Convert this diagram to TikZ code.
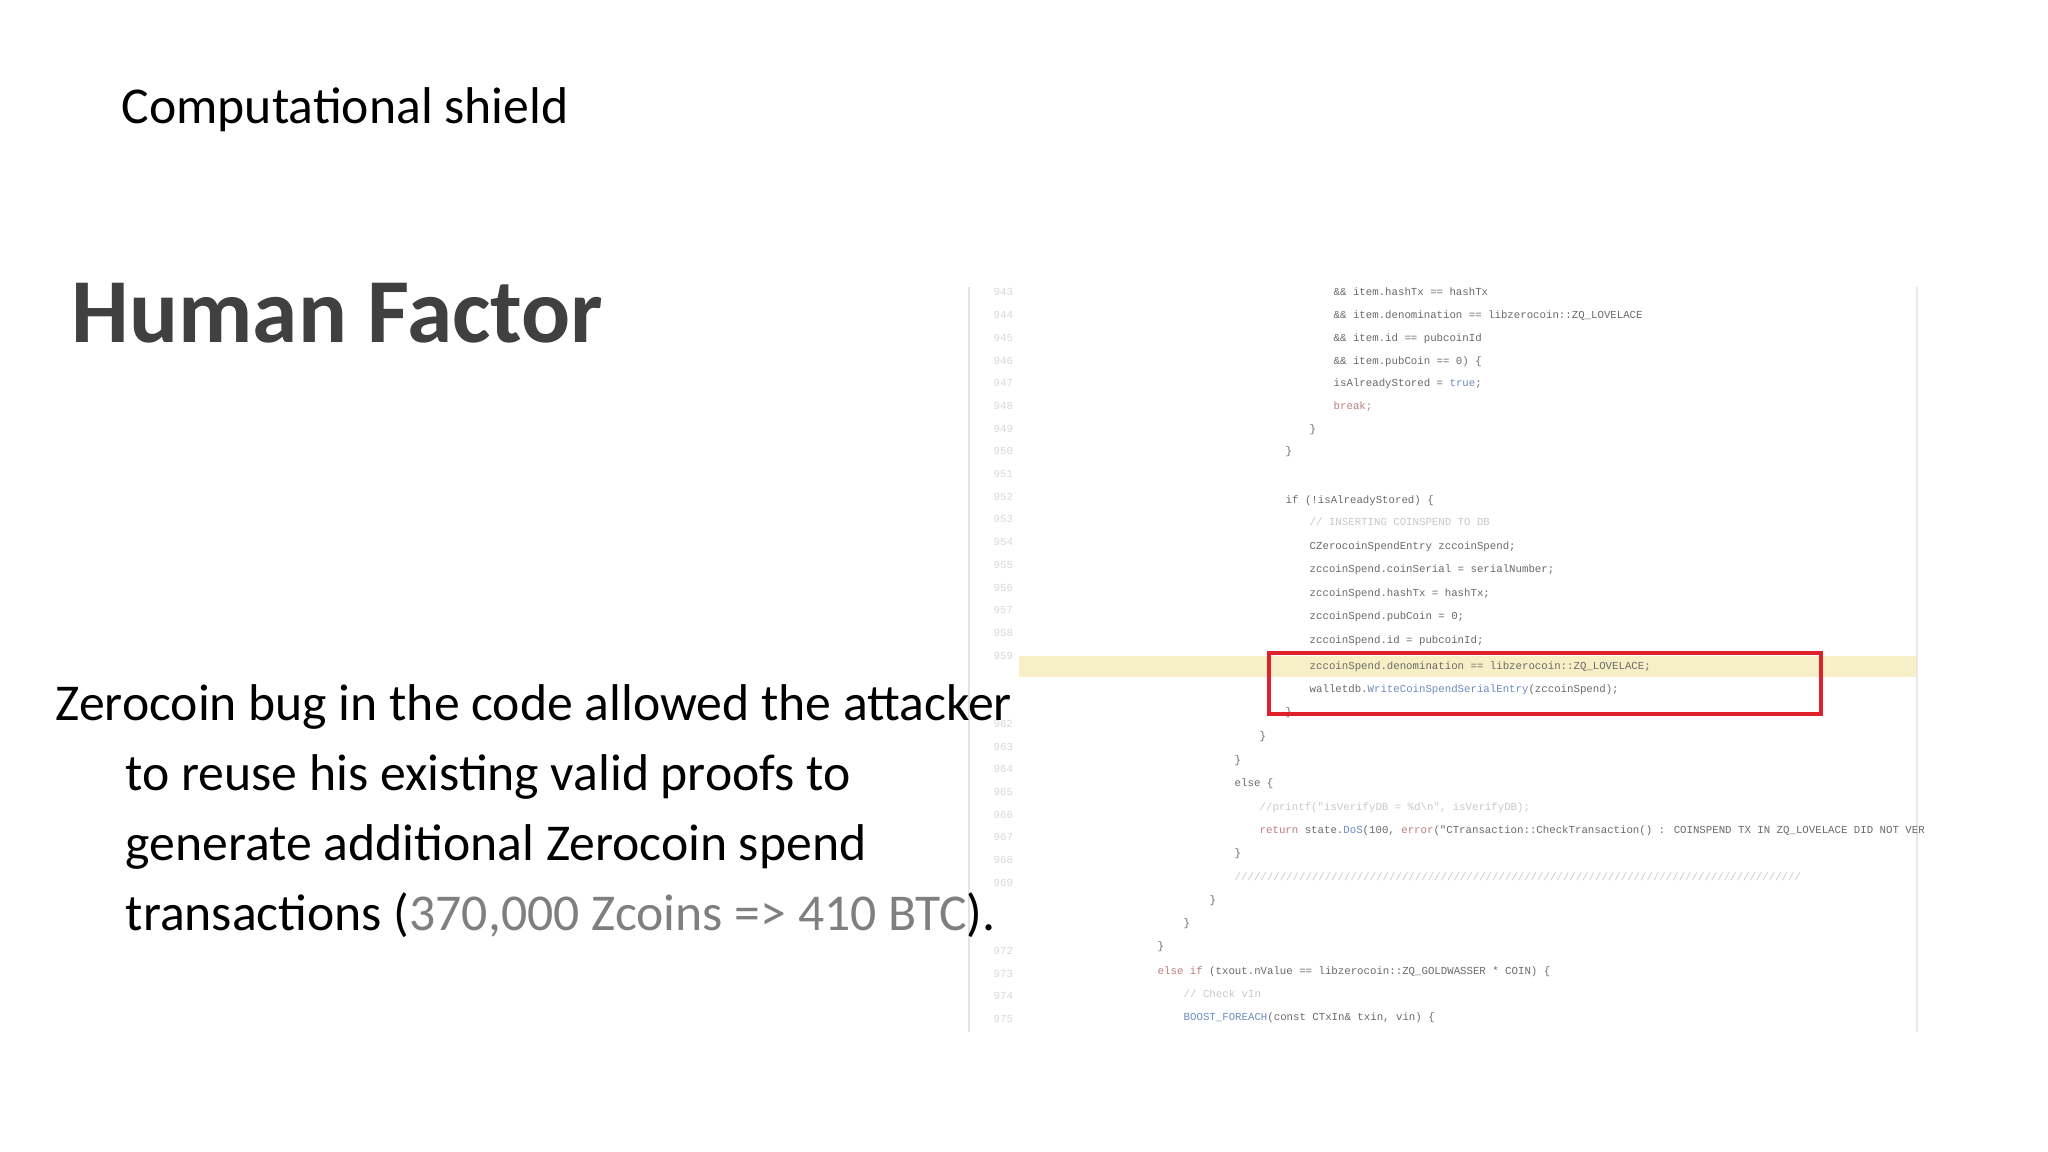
\documentclass[tikz,border=0pt]{standalone}
\usepackage{fontspec}
\setmainfont{Carlito}
\newfontfamily\codefont{Liberation Mono}
\definecolor{titlegray}{HTML}{404040}
\definecolor{numgray}{HTML}{7F7F7F}
\definecolor{codegray}{HTML}{6A6A6A}
\definecolor{codeblue}{HTML}{6C8CC0}
\definecolor{codered}{HTML}{C07A7A}
\definecolor{lnum}{HTML}{C8C8C8}
\definecolor{hl}{HTML}{F7F0C6}
\definecolor{boxred}{HTML}{E0202A}
\begin{document}
\begin{tikzpicture}[x=0.01cm,y=-0.01cm,
  body/.style={anchor=base west,inner sep=0pt,font=\fontsize{14.7pt}{17pt}\selectfont},
  code/.style={anchor=base west,inner sep=0pt,text=codegray,font=\codefont\fontsize{3.05pt}{3.5pt}\selectfont},
  lno/.style={anchor=base west,inner sep=0pt,text=lnum!70,font=\codefont\fontsize{3.05pt}{3.5pt}\selectfont}]
\useasboundingbox (0,0) rectangle (2048,1152);
\fill[white] (0,0) rectangle (2048,1152);
% code screenshot
\fill[hl] (1019,656) rectangle (1916,677);
\draw[lnum!50,line width=0.4pt] (969,287) -- (969,1032);
\draw[lnum!40,line width=0.4pt] (1917,287) -- (1917,1032);
\foreach \i in {0,...,16,19,20,...,26,29,30,31,32}{
  \pgfmathtruncatemacro{\n}{943+\i}
  \node[lno] (ln\i) at (993,{296+22.7*\i}) {\n};
}
\node[code] (c0) at (1333,296.0) {\&\& item.hashTx == hashTx};
\node[code] (c1) at (1333,318.7) {\&\& item.denomination == libzerocoin::ZQ\_LOVELACE};
\node[code] (c2) at (1333,341.4) {\&\& item.id == pubcoinId};
\node[code] (c3) at (1333,364.1) {\&\& item.pubCoin == 0) \{};
\node[code] (c4) at (1333,386.8) {isAlreadyStored = \textcolor{codeblue}{true};};
\node[code,text=codered] (c5) at (1333,409.5) {break;};
\node[code] (c6) at (1309,432.2) {\}};
\node[code] (c7) at (1285,454.9) {\}};
\node[code] (c9) at (1285,503.3) {if (!isAlreadyStored) \{};
\node[code,text=lnum] (c10) at (1309,526.0) {// INSERTING COINSPEND TO DB};
\node[code] (c11) at (1309,549.7) {CZerocoinSpendEntry zccoinSpend;};
\node[code] (c12) at (1309,572.4) {zccoinSpend.coinSerial = serialNumber;};
\node[code] (c13) at (1309,596.1) {zccoinSpend.hashTx = hashTx;};
\node[code] (c14) at (1309,619.8) {zccoinSpend.pubCoin = 0;};
\node[code] (c15) at (1309,643.5) {zccoinSpend.id = pubcoinId;};
\node[code] (c16) at (1309,669.2) {zccoinSpend.denomination == libzerocoin::ZQ\_LOVELACE;};
\node[code] (c17) at (1309,692.9) {walletdb.\textcolor{codeblue}{WriteCoinSpendSerialEntry}(zccoinSpend);};
\node[code] (c18) at (1285,715.6) {\}};
\node[code] (c19) at (1259,739.3) {\}};
\node[code] (c20) at (1234,763.0) {\}};
\node[code] (c21) at (1234,786.7) {else \{};
\node[code,text=lnum] (c22) at (1259,810.4) {//printf("isVerifyDB = \%d\textbackslash n", isVerifyDB);};
\node[code] (c23) at (1259,833.1) {\textcolor{codered}{return} state.\textcolor{codeblue}{DoS}(100, \textcolor{codered}{error}("CTransaction::CheckTransaction() : COINSPEND TX IN ZQ\_LOVELACE DID NOT VER};
\node[code] (c24) at (1234,856.8) {\}};
\node[code,text=lnum] (c25) at (1234,880.5) {////////////////////////////////////////////////////////////////////////////////////////};
\node[code] (c26) at (1209,903.2) {\}};
\node[code] (c27) at (1183,926.9) {\}};
\node[code] (c28) at (1157,949.6) {\}};
\node[code] (c29) at (1157,974.3) {\textcolor{codered}{else if} (txout.nValue == libzerocoin::ZQ\_GOLDWASSER * COIN) \{};
\node[code,text=lnum] (c30) at (1183,997.0) {// Check vIn};
\node[code] (c31) at (1183,1020.7) {\textcolor{codeblue}{BOOST\_FOREACH}(const CTxIn\& txin, vin) \{};
\draw[boxred,line width=1.2pt] (1269,653) rectangle (1821,714);
% slide text
\node[anchor=base west,inner sep=0pt,font=\fontsize{14.7pt}{17pt}\selectfont] (sub) at (121,124) {Computational shield};
\node[anchor=base west,inner sep=0pt,text=titlegray,font=\bfseries\fontsize{26pt}{30pt}\selectfont] (title) at (71,343) {Human Factor};
\node[body] (b1) at (55,720) {Zerocoin bug in the code allowed the attacker};
\node[body] (b2) at (125,790) {to reuse his existing valid proofs to};
\node[body] (b3) at (125,860) {generate additional Zerocoin spend};
\node[body] (b4) at (125,930) {transactions (\textcolor{numgray}{370,000 Zcoins => 410 BTC}).};
\end{tikzpicture}
\end{document}
